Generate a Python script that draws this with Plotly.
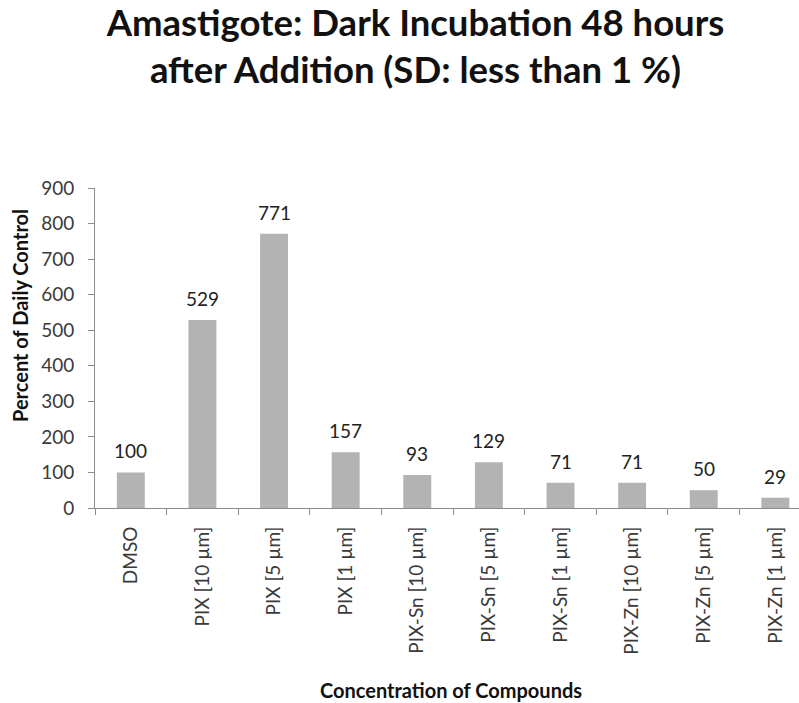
import plotly.graph_objects as go

# Compounds tested and their response (percent of daily control)
compounds = [
    "DMSO", "PIX [10 µm]", "PIX [5 µm]", "PIX [1 µm]",
    "PIX-Sn [10 µm]", "PIX-Sn [5 µm]", "PIX-Sn [1 µm]",
    "PIX-Zn [10 µm]", "PIX-Zn [5 µm]", "PIX-Zn [1 µm]",
]
percent_of_control = [100, 529, 771, 157, 93, 129, 71, 71, 50, 29]
y_ticks = [0, 100, 200, 300, 400, 500, 600, 700, 800, 900]

FONT = "Lato"
BAR_COLOR = "#b3b3b3"
AXIS_COLOR = "#8c8c8c"
TEXT_COLOR = "#3a3a3a"

fig = go.Figure()
fig.add_trace(go.Bar(
    x=compounds,
    y=percent_of_control,
    marker=dict(color=BAR_COLOR, line=dict(width=0)),
    width=0.39,
    hoverinfo="x+y",
))

# value labels floating above each bar
for name, val in zip(compounds, percent_of_control):
    fig.add_annotation(
        x=name, y=val, text=str(val), showarrow=False,
        xref="x", yref="y", yanchor="bottom", yshift=8,
        font=dict(family=FONT, size=19, color="#222222"),
    )

# axis titles
fig.add_annotation(
    text="Percent of Daily Control", textangle=-90, showarrow=False,
    xref="paper", yref="paper", x=0, y=0.6, xanchor="center", yanchor="middle",
    xshift=-75,
    font=dict(family=FONT, size=20, color="#111111", weight="bold"),
)
fig.add_annotation(
    text="Concentration of Compounds", showarrow=False,
    xref="paper", yref="paper", x=0.506, y=-0.569, xanchor="center", yanchor="middle",
    font=dict(family=FONT, size=20, color="#111111", weight="bold"),
)

fig.update_layout(
    width=799, height=703,
    margin=dict(l=95, r=0, t=188, b=195),
    paper_bgcolor="white", plot_bgcolor="white",
    showlegend=False,
    title=dict(
        text="Amastigote: Dark Incubation 48 hours<br>after Addition (SD: less than 1 %)",
        x=0.52, xanchor="center", y=0.949, yanchor="middle",
        font=dict(family=FONT, size=36.5, color="#111111", weight="bold"),
    ),
)

fig.update_xaxes(
    type="category",
    range=[-0.5, len(compounds) - 0.5 - 0.17],
    showline=True, linecolor=AXIS_COLOR, linewidth=1,
    ticks="outside", tickson="boundaries", ticklen=6, tickcolor=AXIS_COLOR,
    tickangle=-90, ticklabelstandoff=10,
    tickfont=dict(family=FONT, size=19, color=TEXT_COLOR),
    showgrid=False, zeroline=False,
)

fig.update_yaxes(
    range=[0, 900],
    tickvals=y_ticks,
    showline=True, linecolor=AXIS_COLOR, linewidth=1,
    ticks="outside", ticklen=6, tickcolor=AXIS_COLOR, ticklabelstandoff=10,
    tickfont=dict(family=FONT, size=19, color=TEXT_COLOR),
    showgrid=False, zeroline=False,
)

fig.write_html("out.html")
